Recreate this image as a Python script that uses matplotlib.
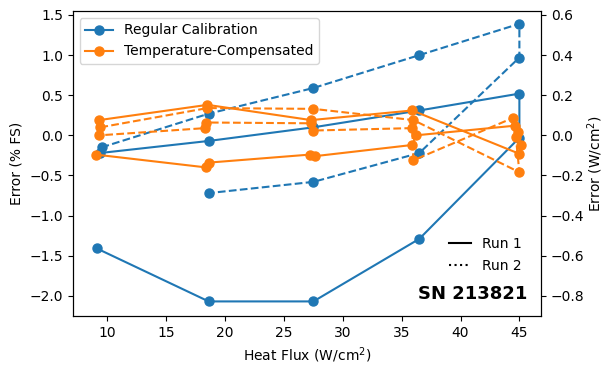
import numpy as np
import matplotlib.pyplot as plt
from matplotlib.lines import Line2D

# regular calibration, run 1 (solid) and run 2 (dashed), error in % FS
reg1_x = [9.4, 18.6, 27.5, 36.5, 45.0, 45.0, 36.5, 27.5, 18.6, 9.1]
reg1_y = [-0.22, -0.07, 0.10, 0.31, 0.52, -0.03, -1.29, -2.07, -2.07, -1.41]
reg2_x = [9.5, 18.6, 27.5, 36.5, 45.0, 45.0, 36.5, 27.5, 18.6]
reg2_y = [-0.15, 0.27, 0.59, 1.00, 1.39, 0.97, -0.22, -0.58, -0.72]

# temperature-compensated, run 1 (solid) and run 2 (dashed)
tc1_x = [9.3, 18.5, 27.3, 35.9, 45.0, 45.1, 44.9, 44.6, 36.2, 35.9, 27.6, 27.2, 18.6, 18.4, 9.0]
tc1_y = [0.19, 0.38, 0.19, 0.31, -0.23, -0.12, 0.04, 0.12, 0.00, -0.12, -0.26, -0.24, -0.34, -0.40, -0.24]
tc2_x = [9.4, 18.5, 27.5, 36.0, 45.0, 44.7, 44.5, 36.0, 35.9, 27.5, 27.3, 18.4, 18.3, 9.3]
tc2_y = [0.10, 0.34, 0.33, 0.19, -0.46, -0.02, 0.22, -0.31, 0.09, 0.06, 0.15, 0.16, 0.09, 0.00]

fs_scale = 0.4  # W/cm2 per % FS

fig = plt.figure(figsize=(6.06, 3.66), dpi=100)
ax = fig.add_axes([0.12, 0.137, 0.773, 0.833])

ax.plot(reg1_x, reg1_y, '-o', color='#1f77b4', ms=6.5, label='Regular Calibration')
ax.plot(reg2_x, reg2_y, '--o', color='#1f77b4', ms=6.5)
ax.plot(tc1_x, tc1_y, '-o', color='#ff7f0e', ms=6.5, label='Temperature-Compensated')
ax.plot(tc2_x, tc2_y, '--o', color='#ff7f0e', ms=6.5)

ax.set_xlim(7.05, 46.85)
ax.set_ylim(-2.25, 1.55)
ax.set_xticks([10, 15, 20, 25, 30, 35, 40, 45])
ax.set_xlabel('Heat Flux (W/cm$^2$)')
ax.set_ylabel('Error (% FS)')

leg1 = ax.legend(loc='upper left')
ax.add_artist(leg1)
run_handles = [Line2D([], [], color='black', ls='-'),
               Line2D([], [], color='black', ls=':')]
ax.legend(run_handles, ['Run 1', 'Run 2'], loc='lower right',
          bbox_to_anchor=(0.985, 0.1), frameon=False,
          handlelength=1.6, labelspacing=0.55)

ax.text(0.97, 0.072, 'SN 213821', transform=ax.transAxes, ha='right',
        va='center', fontsize=13, fontweight='bold')

ax2 = ax.twinx()
ax2.set_ylim(-2.25 * fs_scale, 1.55 * fs_scale)
ax2.set_yticks([-0.8, -0.6, -0.4, -0.2, 0.0, 0.2, 0.4, 0.6])
ax2.set_ylabel('Error (W/cm$^2$)', labelpad=1)

fig.savefig('out.png', dpi=100)
